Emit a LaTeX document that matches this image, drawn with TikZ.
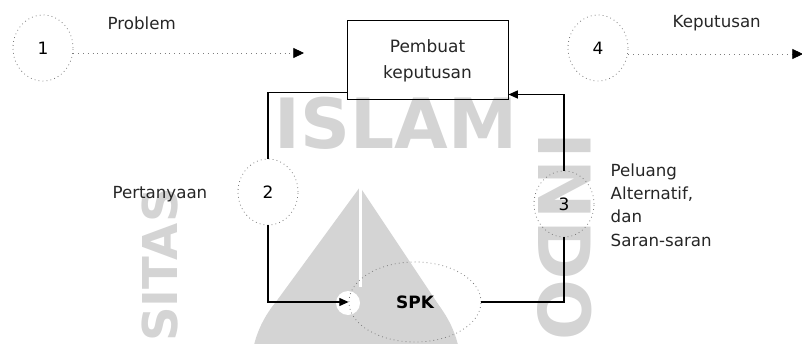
\documentclass[tikz,border=0pt]{standalone}
\usepackage{fontspec}
\setmainfont{DejaVu Sans}
\usetikzlibrary{shapes.geometric,arrows.meta,calc}
\definecolor{wm}{RGB}{212,212,212}
\definecolor{dotc}{RGB}{125,125,125}
\begin{document}
\begin{tikzpicture}[x=0.75pt,y=0.75pt,
  circ/.style={ellipse,draw=dotc,dash pattern=on 0.6pt off 2.4pt,line width=0.6pt,minimum width=60*0.75pt,minimum height=66*0.75pt,inner sep=0pt,font=\fontsize{12.75}{15}\selectfont},
  lbl/.style={font=\fontsize{12.5}{17.5}\selectfont,text=black!85},
  conn/.style={draw=black,line width=0.9pt},
  tip/.style={-{Triangle[length=7pt,width=6pt]}},
  dotline/.style={draw=dotc,dash pattern=on 0.6pt off 3pt,line width=0.6pt},
  wmtext/.style={text=wm,font=\bfseries\fontsize{52}{52}\selectfont,inner sep=0pt}
]
\useasboundingbox (0,0) rectangle (802,343);
% watermark
\fill[wm] (360,156) -- (270,33) -- (442,33) -- cycle;
\fill[wm] (356,-27) circle (105);
\fill[white] (358.5,56) rectangle (361.5,158);
\fill[white] (348,40) circle (12);
\node[wmtext] (wmislam) at (396,220) {ISLAM};
\node[wmtext,font=\bfseries\fontsize{54}{54}\selectfont,rotate=-90] (wmindo) at (565,106) {INDO};
\node[wmtext,font=\bfseries\fontsize{36}{36}\selectfont,rotate=90] (wmsitas) at (160,78) {SITAS};
% nodes
\node[circ] (c1) at (43,295) {1};
\node[circ] (c4) at (598,295) {4};
\node[circ] (c2) at (268,151) {2};
\node[circ] (c3) at (564,139) {3};
\node[draw,line width=0.75pt,minimum width=161*0.75pt,minimum height=79*0.75pt,align=center,font=\fontsize{12.75}{19.5}\selectfont,text=black!85] (box) at (427.5,282.5) {Pembuat\\keputusan};
\node[ellipse,draw=dotc,dash pattern=on 0.6pt off 2.4pt,line width=0.6pt,minimum width=132*0.75pt,minimum height=80*0.75pt,inner sep=0pt,font=\bfseries\fontsize{12.75}{15}\selectfont] (spk) at (415,41) {SPK};
% labels
\node[lbl,anchor=west] (lp) at (103,320) {Problem};
\node[lbl,anchor=west] (lk) at (668,320) {Keputusan};
\node[lbl,anchor=east] (lq) at (212,149) {Pertanyaan};
\node[lbl,anchor=west,align=left] (lr) at (606,138) {Peluang\\Alternatif,\\dan\\Saran-saran};
% connectors
\coordinate (p1) at (304,290);
\coordinate (p4) at (803,289);
\draw[dotline,-{Triangle[color=black,length=8pt,width=7.5pt]}] (c1.east |- p1) -- (p1);
\draw[dotline,-{Triangle[color=black,length=8pt,width=7.5pt]}] (c4.east |- p4) -- (p4);
\coordinate (bl) at ($(box.south west)+(0,8)$);
\coordinate (br) at ($(box.south east)+(0,6)$);
\draw[conn] (bl) -| (c2.north);
\draw[conn,tip] (c2.south) |- (spk.west);
\draw[conn] (spk.east) -| (c3.south);
\draw[conn,tip] (c3.north) |- (br);
\end{tikzpicture}
\end{document}
